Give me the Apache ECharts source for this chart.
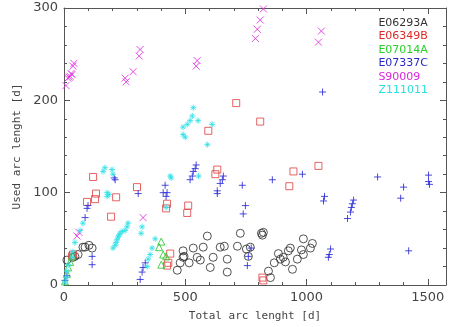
<!DOCTYPE html>
<html>
<head>
<meta charset="utf-8">
<script src="https://cdn.jsdelivr.net/npm/echarts@6/dist/echarts.min.js"></script>
<style>
  html, body { margin: 0; padding: 0; background: #fff; }
  #chart { width: 451px; height: 327px; }
</style>
</head>
<body>
<div id="chart"></div>
<script>
// values, [total arc length, used arc length]
const e06293a = [
  [12, 27], [37, 30], [45, 31], [58, 33], [78, 41], [87, 41], [103, 43], [116, 40],
  [467, 16], [479, 24], [491, 37], [491, 30], [495, 31], [516, 24], [533, 40], [549, 30],
  [562, 27], [574, 41], [591, 53], [603, 19], [615, 30], [644, 41], [661, 42], [673, 28],
  [673, 14], [715, 42], [727, 56], [752, 39], [760, 31], [768, 41], [814, 56], [822, 57],
  [818, 54], [843, 15], [851, 8], [867, 24], [884, 34], [892, 28], [904, 30], [913, 25],
  [925, 37], [933, 40], [942, 17], [962, 28], [979, 38], [987, 50], [987, 33], [1016, 40],
  [1024, 45]
];
const e06349b = [
  [33, 31], [37, 33], [95, 90], [120, 117], [128, 93], [132, 99], [194, 74], [215, 95],
  [301, 106], [421, 83], [425, 88], [430, 24], [438, 34], [425, 21], [508, 78], [512, 86],
  [595, 167], [624, 120], [632, 125], [710, 197], [809, 177], [818, 8], [822, 5], [929, 107],
  [946, 123], [1049, 129]
];
const e07014a = [
  [4, 4], [12, 12], [17, 19], [25, 25], [33, 31], [392, 41], [401, 47], [409, 33],
  [401, 22], [421, 31]
];
const e07337c = [
  [4, 5], [12, 10], [87, 73], [95, 83], [99, 86], [116, 31], [116, 22], [211, 114],
  [207, 116], [306, 99], [314, 6], [322, 14], [326, 19], [335, 24], [409, 100], [417, 108],
  [421, 96], [425, 100], [520, 114], [529, 118], [533, 123], [541, 126], [545, 130], [632, 99],
  [632, 102], [644, 110], [653, 114], [657, 118], [735, 108], [748, 86], [739, 77], [756, 21],
  [760, 31], [772, 40], [859, 114], [983, 120], [1066, 209], [1074, 96], [1070, 91], [1094, 33],
  [1099, 39], [1090, 30], [1169, 72], [1181, 79], [1185, 84], [1189, 88], [1194, 92], [1293, 117],
  [1388, 94], [1400, 106], [1421, 37], [1503, 119], [1503, 112], [1507, 109]
];
const s90009 = [
  [8, 216], [16, 224], [21, 225], [25, 226], [29, 229], [33, 228], [37, 237], [41, 240],
  [54, 53], [62, 57], [252, 224], [256, 220], [285, 231], [310, 248], [314, 255], [326, 73],
  [545, 237], [549, 243], [789, 267], [797, 277], [809, 287], [822, 299], [1049, 263], [1061, 275]
];
const z111011 = [
  [4, 3], [8, 8], [12, 15], [17, 22], [33, 30], [37, 36], [45, 46], [66, 59], [78, 67],
  [161, 123], [169, 127], [198, 125], [202, 120], [178, 100], [178, 96], [186, 98],
  [202, 40], [211, 43], [215, 46], [219, 49], [223, 52], [227, 54], [231, 56], [240, 58], [252, 59],
  [260, 63], [264, 67], [318, 56], [322, 63], [343, 20], [347, 28], [355, 33], [363, 40],
  [376, 50], [421, 84], [438, 118], [442, 116], [491, 163], [500, 160], [491, 171], [508, 174],
  [520, 178], [529, 183], [533, 192], [553, 178], [611, 174], [591, 152], [555, 118]
];

const seriesNames = ['E06293A', 'E06349B', 'E07014A', 'E07337C', 'S90009', 'Z111011'];
const seriesData = [e06293a, e06349b, e07014a, e07337c, s90009, z111011];
const markColors = ['#333333', '#e04848', '#30c830', '#2b2bd8', '#e030e0', '#30e0e8'];
const textColors = ['#333333', '#e02828', '#28d028', '#2828c8', '#d828d8', '#28e0e0'];
const symbols = [
  'circle',
  'rect',
  'triangle',
  'path://M0,5L10,5M5,0L5,10',
  'path://M0,0L10,10M10,0L0,10',
  'path://M0,5L10,5M5,0L5,10M1.5,1.5L8.5,8.5M8.5,1.5L1.5,8.5'
];
const symbolSizes = [8, 7, 7, 7, 7, 6];

const xTickLabels = [0, 500, 1000, 1500];

const chart = echarts.init(document.getElementById('chart'));

const axisGray = '#555';
const labelFont = { color: '#444', fontSize: 13, fontFamily: 'DejaVu Sans' };

function xAxisDef(pos, interval, tickLen, withLine, withLabel) {
  return {
    type: 'value', position: pos, min: 0, max: 1575, interval: interval,
    axisLine: { show: withLine, onZero: false, lineStyle: { color: axisGray, width: 1 } },
    axisTick: { show: true, inside: true, length: tickLen, lineStyle: { color: axisGray } },
    axisLabel: withLabel ? Object.assign({
      margin: 6,
      formatter: v => (xTickLabels.indexOf(v) >= 0 ? String(v) : '')
    }, labelFont) : { show: false },
    splitLine: { show: false }
  };
}

function yAxisDef(pos, withLabel) {
  return {
    type: 'value', position: pos, min: 0, max: 300, interval: 100,
    axisLine: { show: true, onZero: false, lineStyle: { color: axisGray, width: 1 } },
    axisTick: { show: true, inside: true, length: 6, lineStyle: { color: axisGray } },
    minorTick: { show: true, splitNumber: 5, length: 3, lineStyle: { color: axisGray } },
    axisLabel: withLabel ? Object.assign({ margin: 6 }, labelFont) : { show: false },
    splitLine: { show: false }
  };
}

const xAxes = [
  xAxisDef('bottom', 100, 3, true, true),
  xAxisDef('bottom', 500, 6, false, false),
  xAxisDef('top', 100, 3, true, false),
  xAxisDef('top', 500, 6, false, false)
];
Object.assign(xAxes[0], {
  name: 'Total arc lenght [d]', nameLocation: 'middle', nameGap: 26,
  nameTextStyle: { color: '#444', fontSize: 11, fontFamily: 'DejaVu Sans Mono' }
});

const yAxes = [yAxisDef('left', true), yAxisDef('right', false)];
Object.assign(yAxes[0], {
  name: 'Used arc lenght [d]', nameLocation: 'middle', nameGap: 40,
  nameTextStyle: { color: '#444', fontSize: 11, fontFamily: 'DejaVu Sans Mono' }
});

const option = {
  animation: false,
  backgroundColor: '#fff',
  grid: { left: 64, right: 5, top: 8, bottom: 36 },
  legend: {
    orient: 'vertical', right: 23, top: 17, itemGap: 2, padding: 0,
    icon: 'none', itemWidth: 0, itemHeight: 12,
    selectedMode: false,
    textStyle: { fontSize: 11, fontFamily: 'DejaVu Sans', padding: [0, 0, 0, 0] },
    data: seriesNames.map((n, i) => ({ name: n, textStyle: { color: textColors[i] } }))
  },
  xAxis: xAxes,
  yAxis: yAxes,
  series: seriesNames.map((n, i) => ({
    name: n,
    type: 'scatter',
    xAxisIndex: 0,
    yAxisIndex: 0,
    data: seriesData[i],
    symbol: symbols[i],
    symbolSize: symbolSizes[i],
    itemStyle: { color: 'none', borderColor: markColors[i], borderWidth: 1, opacity: 0.85 }
  }))
};

chart.setOption(option);
</script>
</body>
</html>
